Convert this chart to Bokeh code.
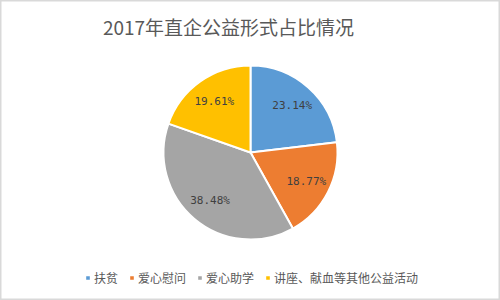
import math
from bokeh.plotting import figure
from bokeh.models import ColumnDataSource, Legend, LegendItem, Range1d
from bokeh.core.properties import value
from bokeh.embed import file_html
from bokeh.resources import INLINE

categories = ["扶贫", "爱心慰问", "爱心助学", "讲座、献血等其他公益活动"]
shares = [23.14, 18.77, 38.48, 19.61]
colors = ["#5B9BD5", "#ED7D31", "#A5A5A5", "#FFC000"]
title_text = "2017年直企公益形式占比情况"

W, H = 500, 300
cx, cy, R = 250, 148, 87

total = sum(shares)
starts, ends, lx, ly, labels = [], [], [], [], []
cum = 0.0
for s in shares:
    a0 = math.pi / 2 - 2 * math.pi * cum / total
    cum += s
    a1 = math.pi / 2 - 2 * math.pi * cum / total
    starts.append(a1)
    ends.append(a0)
    mid = (a0 + a1) / 2
    lx.append(cx + 0.72 * R * math.cos(mid))
    ly.append(cy + 0.72 * R * math.sin(mid))
    labels.append(f"{s:.2f}%")

src = ColumnDataSource(dict(start=starts, end=ends, color=colors, cat=categories,
                            lx=lx, ly=ly, lab=labels))

p = figure(width=W, height=H, output_backend="svg", toolbar_location=None,
           x_range=Range1d(0, W), y_range=Range1d(0, H), min_border=0)
p.axis.visible = False
p.grid.visible = False
p.outline_line_color = "#D9D9D9"
p.outline_line_width = 2
p.background_fill_color = "white"
p.border_fill_color = "white"

renderers = []
for i in range(len(shares)):
    r = p.wedge(x=cx, y=cy, radius=R, start_angle=starts[i], end_angle=ends[i],
                fill_color=colors[i], line_color="white", line_width=2)
    renderers.append(r)

p.text(x="lx", y="ly", text="lab", source=src, text_align="center", text_baseline="middle",
       text_font=value("DejaVu Sans Mono"), text_font_size="11px", text_color="#404040")

p.text(x=[228], y=[H - 26], text=[title_text], text_align="center", text_baseline="middle",
       text_font=value("Noto Sans CJK SC"), text_font_size="19px", text_color="#595959")

legend = Legend(items=[LegendItem(label=categories[i], renderers=[renderers[i]]) for i in range(4)],
                orientation="horizontal", location=(84, 14),
                glyph_width=7, glyph_height=7, label_standoff=3, spacing=10,
                padding=0, margin=0, label_height=14,
                label_text_font="Noto Sans CJK SC", label_text_font_size="12px",
                label_text_color="#595959", background_fill_alpha=0, border_line_alpha=0)
p.add_layout(legend, "center")

open("out.html", "w").write(file_html(p, INLINE))
